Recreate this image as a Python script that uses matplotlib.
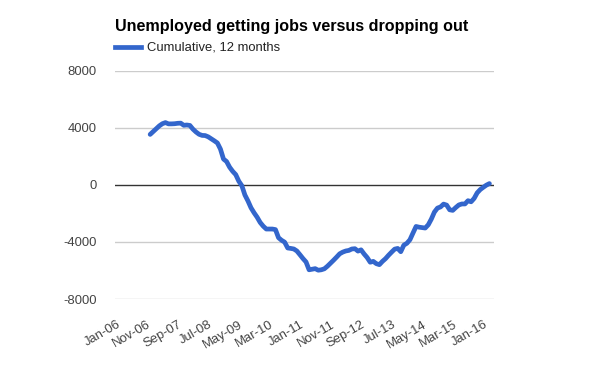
import numpy as np
import pandas as pd
import matplotlib
matplotlib.use("Agg")
import matplotlib.pyplot as plt

plt.rcParams['font.family'] = ['Liberation Sans', 'DejaVu Sans']

# monthly categories Jan-06 .. Apr-16, label every 10th
months = pd.date_range("2006-01-01", "2016-04-01", freq="MS")
month_labels = [d.strftime("%b-%y") for d in months]
first_idx = 11  # series starts Dec-06 (12-month cumulative)

# cumulative 12 month flow
cumulative = [
    3550, 3750, 3950, 4150, 4300, 4380, 4290, 4290, 4300, 4330,
    4340, 4190, 4210, 4180, 3920, 3720, 3560, 3480, 3470, 3380,
    3240, 3100, 2950, 2520, 1820, 1650, 1250, 960, 730, 270,
    -50, -700, -1120, -1600, -1950, -2260, -2630, -2890, -3090, -3090,
    -3090, -3130, -3700, -3880, -4010, -4420, -4450, -4490, -4630, -4890,
    -5160, -5400, -5950, -5910, -5870, -5980, -5950, -5880, -5700, -5490,
    -5280, -5060, -4830, -4710, -4630, -4590, -4490, -4470, -4640, -4550,
    -4840, -5090, -5420, -5360, -5520, -5590, -5360, -5170, -4930, -4710,
    -4500, -4450, -4680, -4220, -4090, -3840, -3370, -2910, -2960, -2990,
    -3020, -2790, -2390, -1900, -1620, -1540, -1340, -1410, -1740, -1780,
    -1580, -1400, -1330, -1330, -1100, -1180, -940, -550, -320, -160,
    -10, 100,
]
y_ticks = [-8000, -4000, 0, 4000, 8000]

fig = plt.figure(figsize=(6.09, 3.71), dpi=100)
ax = fig.add_axes([115/609, 1 - 299/371, 379/609, 228/371])

x = np.arange(first_idx, first_idx + len(cumulative))
ax.plot(x, cumulative, color='#3366CC', lw=3.4, solid_joinstyle='round',
        solid_capstyle='round', zorder=3)

ax.set_xlim(-0.5, len(months) - 0.5)
ax.set_ylim(-8000, 8000)
ax.set_yticks(y_ticks)
ax.set_yticklabels([str(t) for t in y_ticks])
for t in y_ticks:
    ax.axhline(t, color='#333333' if t == 0 else '#CCCCCC', lw=1, zorder=2 if t == 0 else 1)

xt = list(range(0, len(months), 10))
ax.set_xticks(xt)
ax.set_xticklabels([month_labels[i] for i in xt], rotation=30, ha='right',
                   rotation_mode='anchor')

ax.tick_params(axis='both', length=0, labelsize=9.4, colors='#444444')
ax.tick_params(axis='y', pad=13)
ax.tick_params(axis='x', pad=14)
for s in ax.spines.values():
    s.set_visible(False)

fig.text(115/609, 1 - 26/371, "Unemployed getting jobs versus dropping out",
         fontsize=11.6, fontweight='bold', color='#000000', va='center', ha='left')
fig.lines.append(plt.Line2D([115/609, 141/609], [1 - 47/371, 1 - 47/371],
                            transform=fig.transFigure, color='#3366CC', lw=3.4))
fig.text(147/609, 1 - 47/371, "Cumulative, 12 months", fontsize=9.4,
         color='#222222', va='center', ha='left')

fig.savefig("out.png", dpi=100)
